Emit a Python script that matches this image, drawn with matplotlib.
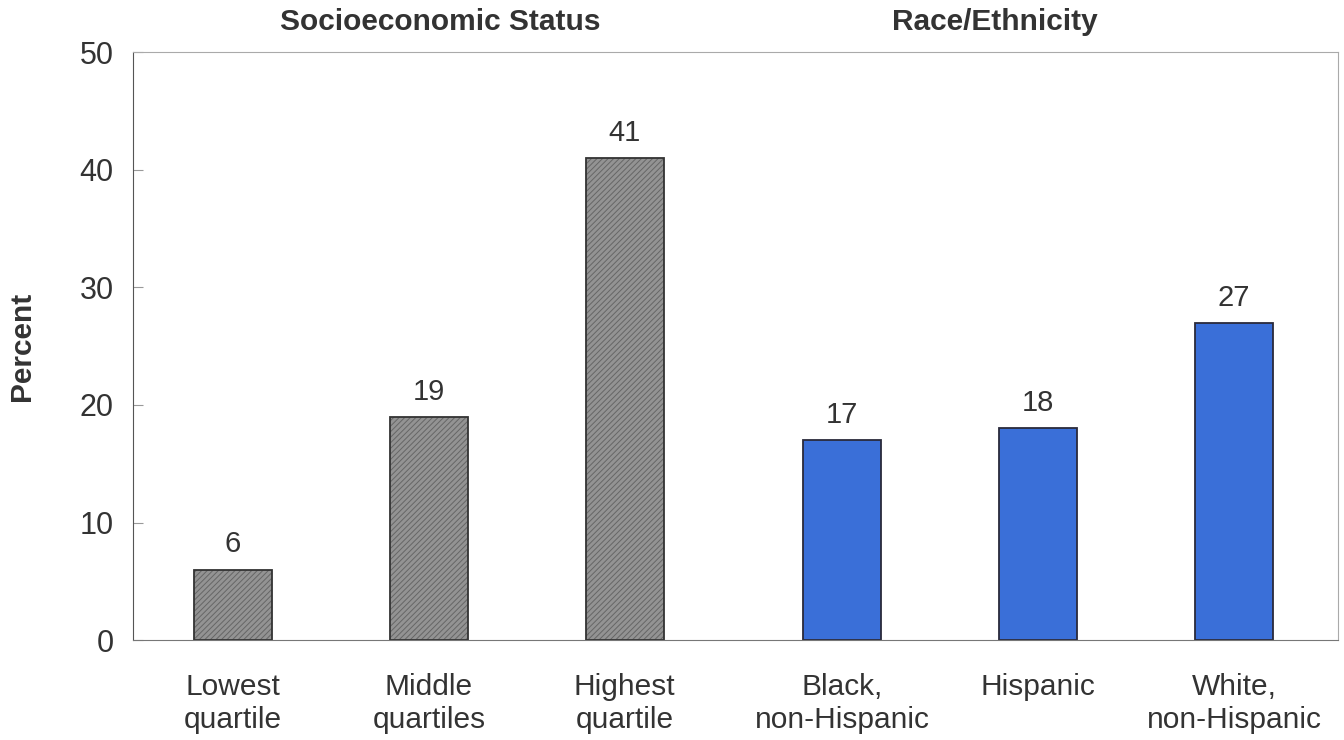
import matplotlib.pyplot as plt

categories = ["Lowest\nquartile", "Middle\nquartiles", "Highest\nquartile",
              "Black,\nnon-Hispanic", "Hispanic", "White,\nnon-Hispanic"]
percent = [6, 19, 41, 17, 18, 27]
groups = ["Socioeconomic Status", "Race/Ethnicity"]

plt.rcParams['font.family'] = ['Liberation Sans', 'DejaVu Sans']
plt.rcParams['hatch.linewidth'] = 0.7

fig = plt.figure(figsize=(13.44, 7.4), dpi=100)
ax = fig.add_axes([0.099, 0.135, 0.8965, 0.7945])

# small extra gap between the two groups
pos = [0, 1, 2, 3.11, 4.11, 5.11]
ses_x, race_x = pos[:3], pos[3:]
ses_y, race_y = percent[:3], percent[3:]

# gray hatched bars (hatch drawn first, outline on top)
ax.bar(ses_x, ses_y, width=0.4, color='#939393', edgecolor='#666666',
       hatch='//////', linewidth=0)
b1 = ax.bar(ses_x, ses_y, width=0.4, fill=False, edgecolor='#333333', linewidth=1.3)
b2 = ax.bar(race_x, race_y, width=0.4, color='#3a6fd8', edgecolor='#2a2a3a', linewidth=1.3)

ax.bar_label(b1, labels=[str(v) for v in ses_y], padding=8, fontsize=21, color='#333333')
ax.bar_label(b2, labels=[str(v) for v in race_y], padding=8, fontsize=21, color='#333333')

ax.set_xlim(-0.51, 5.64)
ax.set_ylim(0, 50)
ax.set_yticks([0, 10, 20, 30, 40, 50])
ax.tick_params(axis='y', direction='in', length=7, color='#999999', labelsize=22,
               labelcolor='#333333', pad=14)
ax.set_xticks(pos)
ax.set_xticklabels(categories, fontsize=21.5, color='#333333', linespacing=1.2)
ax.tick_params(axis='x', length=0, pad=24)

ax.spines['left'].set_color('#555555')
ax.spines['bottom'].set_color('#777777')
ax.spines['top'].set_color('#aaaaaa')
ax.spines['right'].set_color('#aaaaaa')

ax.set_ylabel("Percent", fontsize=21.5, fontweight='bold', color='#333333', labelpad=31)

fig.text(440 / 1344, 1 - 22 / 740, groups[0], ha='center', va='center',
         fontsize=21.5, fontweight='bold', color='#333333')
fig.text(995 / 1344, 1 - 22 / 740, groups[1], ha='center', va='center',
         fontsize=21.5, fontweight='bold', color='#333333')

plt.savefig('out.png', dpi=100)
